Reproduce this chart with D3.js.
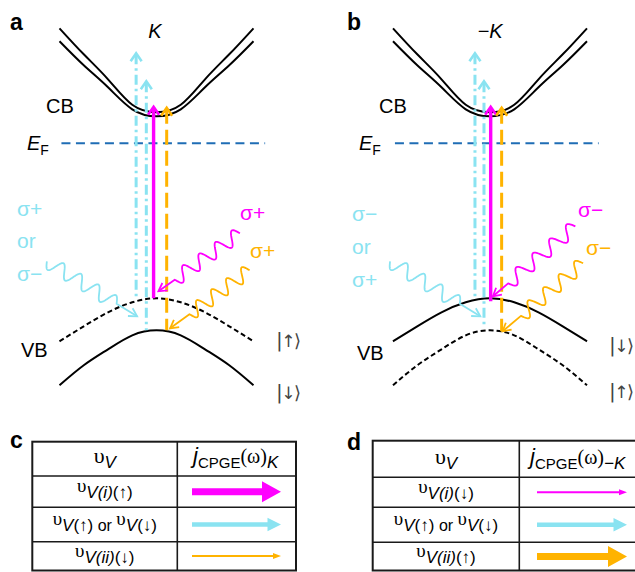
<!DOCTYPE html>
<html>
<head>
<meta charset="utf-8">
<script src="https://cdn.jsdelivr.net/npm/d3@7"></script>
<style>
  html, body { margin: 0; padding: 0; background: #fff; }
  svg { display: block; font-family: "Liberation Sans", Arial, "DejaVu Sans", sans-serif; }
</style>
</head>
<body>
<svg id="fig" width="635" height="572"></svg>
<script>
// ---------- band structure around the K / -K valleys ----------
// k is measured from the valley centre, E from the Fermi level (arbitrary units)
const bandK    = [-1, -0.75, -0.5, -0.25, 0, 0.25, 0.5, 0.75, 1];
const cbOuterE = [1.15, 0.89, 0.64, 0.385, 0.31, 0.385, 0.64, 0.89, 1.15];
const cbInnerE = [1.02, 0.78, 0.56, 0.34, 0.27, 0.34, 0.56, 0.78, 1.02];
const vbUpperE = [-1.98, -1.83, -1.69, -1.59, -1.55, -1.59, -1.69, -1.83, -1.98];
const vbLowerE = [-2.42, -2.22, -2.06, -1.92, -1.87, -1.92, -2.06, -2.22, -2.42];
const fermiE = 0;
const fermiSpan = [-0.98, 1.12];

// ---------- vertical optical transitions ----------
// order: cyan (outer), cyan (inner), magenta (i), orange (ii)
const transitionNames = ["cyan", "cyan", "magenta", "orange"];
const transKA    = [-0.21, -0.105, -0.03, 0.105];
const transKB    = [-0.155, -0.062, 0.007, 0.12];
const transFromA = [-1.56, -1.87, -1.55, -1.87];
const transFromB = [-1.57, -1.85, -1.58, -1.88];
const transTo    = [0.90, 0.62, 0.365, 0.355];

// ---------- incoming photons: start and tip as (k, E) ----------
const photonNames  = ["cyan", "magenta", "orange"];
const photonStartA = [[-1.13, -1.18], [0.86, -0.90], [0.96, -1.27]];
const photonTipA   = [[-0.20, -1.73], [0.02, -1.48], [0.14, -1.85]];
const photonStartB = [[-1.03, -1.18], [0.88, -0.83], [0.96, -1.20]];
const photonTipB   = [[-0.10, -1.73], [0.03, -1.53], [0.13, -1.88]];

// ---------- text ----------
const polA = [["σ+", "or", "σ−"], "σ+", "σ+"];
const polB = [["σ−", "or", "σ+"], "σ−", "σ−"];
const ketsA = ["↑", "↓"];
const ketsB = ["↓", "↑"];
const valleyA = "K", valleyB = "−K";

// ---------- CPGE current tables ----------
const rowsC = [
  [["υ", "u"], ["V(i)", "si"], ["(↑)", "s"]],
  [["υ", "u"], ["V", "si"], ["(↑)", "s"], [" or ", "or"], ["υ", "u"], ["V", "si"], ["(↓)", "s"]],
  [["υ", "u"], ["V(ii)", "si"], ["(↓)", "s"]]
];
const rowsD = [
  [["υ", "u"], ["V(i)", "si"], ["(↓)", "s"]],
  [["υ", "u"], ["V", "si"], ["(↑)", "s"], [" or ", "or"], ["υ", "u"], ["V", "si"], ["(↓)", "s"]],
  [["υ", "u"], ["V(ii)", "si"], ["(↑)", "s"]]
];
const headC = [[["υ", "hu"], ["V", "hsi"]], [["j", "hj"], ["CPGE", "hs"], ["(ω)", "hw"], ["K", "hsi"]]];
const headD = [[["υ", "hu"], ["V", "hsi"]], [["j", "hj"], ["CPGE", "hs"], ["(ω)", "hw"], ["−K", "hsi"]]];
const rowColors = ["magenta", "cyan", "orange"];
const currentK      = [3, 2, 1];   // relative magnitude of j_CPGE at K
const currentMinusK = [1, 2, 3];   // relative magnitude of j_CPGE at -K

// ---------- styling ----------
const col = { cyan: "#8ae3f1", magenta: "#ff00ff", orange: "#ffb300", fermi: "#1f6db5", ink: "#000", ket: "#444" };
const lineStyle = {
  cyan:    { dash: "10,4,2.5,4", width: 3 },
  magenta: { dash: null,         width: 3.4 },
  orange:  { dash: "15,6",       width: 3 }
};
const SANS = "'Liberation Sans', Arial, 'DejaVu Sans', sans-serif";
const SERIF = "'Liberation Serif', 'Times New Roman', serif";
const DEJAVU = "'DejaVu Sans', sans-serif";

const svg = d3.select("#fig");
const yE = d3.scaleLinear().domain([-2.6, 1.2]).range([403.3, 23.3]);

const panels = [
  { letter: "a", cx: 156.5, valley: valleyA, upperDashed: true,
    transK: transKA, transFrom: transFromA, pStart: photonStartA, pTip: photonTipA, pol: polA, kets: ketsA,
    lay: { letter: [10, 30], valley: [155, 38], cb: [46, 113], ef: [27, 150], vb: [21, 357],
           ketX: 276, ketY: [347, 399], cyanX: 17, cyanY: [216, 248, 281], mag: [240, 220], ora: [250, 258] } },
  { letter: "b", cx: 490, valley: valleyB, upperDashed: false,
    transK: transKB, transFrom: transFromB, pStart: photonStartB, pTip: photonTipB, pol: polB, kets: ketsB,
    lay: { letter: [347, 30], valley: [490, 38], cb: [379, 113], ef: [359, 150], vb: [357, 360],
           ketX: 609, ketY: [352, 398], cyanX: 352, cyanY: [221, 254, 287], mag: [578, 217], ora: [586, 255] } }
];

function chevron(g, x, y, color, half, depth, w) {
  g.append("path")
    .attr("d", `M${x - half},${y + depth}L${x},${y}L${x + half},${y + depth}`)
    .attr("fill", "none").attr("stroke", color).attr("stroke-width", w)
    .attr("stroke-linejoin", "miter").attr("stroke-linecap", "butt");
}

function photon(g, p0, p1, color, periods, amp, lead) {
  const dx = p1[0] - p0[0], dy = p1[1] - p0[1], L = Math.hypot(dx, dy);
  const ux = dx / L, uy = dy / L, nx = -uy, ny = ux;
  const Lw = L - lead, N = 160, pts = [];
  for (let i = 0; i <= N; i++) {
    const t = (i / N) * Lw;
    const o = amp * Math.sin(2 * Math.PI * periods * t / Lw);
    pts.push([p0[0] + ux * t + nx * o, p0[1] + uy * t + ny * o]);
  }
  pts.push(p1);
  g.append("path").attr("d", d3.line()(pts)).attr("fill", "none")
    .attr("stroke", color).attr("stroke-width", 1.8).attr("stroke-linejoin", "round");
  const hl = 8, hw = 4.5;
  const a = [p1[0] - ux * hl + nx * hw, p1[1] - uy * hl + ny * hw];
  const b = [p1[0] - ux * hl - nx * hw, p1[1] - uy * hl - ny * hw];
  g.append("path").attr("d", `M${a}L${p1}L${b}`).attr("fill", "none")
    .attr("stroke", color).attr("stroke-width", 1.8);
}

panels.forEach(p => {
  const x = d3.scaleLinear().domain([-1, 1]).range([p.cx - 97, p.cx + 97]);
  const g = svg.append("g");
  const band = d3.line().x(d => x(d[0])).y(d => yE(d[1])).curve(d3.curveNatural);
  const pairs = arr => bandK.map((k, i) => [k, arr[i]]);

  // conduction band (spin-split pair)
  [cbOuterE, cbInnerE].forEach(e => {
    g.append("path").attr("d", band(pairs(e))).attr("fill", "none")
      .attr("stroke", col.ink).attr("stroke-width", 2);
  });
  // valence bands
  [[vbUpperE, p.upperDashed], [vbLowerE, !p.upperDashed]].forEach(([e, dashed]) => {
    g.append("path").attr("d", band(pairs(e))).attr("fill", "none")
      .attr("stroke", col.ink).attr("stroke-width", 2)
      .attr("stroke-dasharray", dashed ? "5,3" : null);
  });
  // Fermi level
  g.append("line").attr("x1", x(fermiSpan[0])).attr("x2", x(fermiSpan[1]))
    .attr("y1", yE(fermiE)).attr("y2", yE(fermiE))
    .attr("stroke", col.fermi).attr("stroke-width", 2).attr("stroke-dasharray", "9,5.5");

  // vertical transitions (drawn from the arrow tip downward)
  transitionNames.forEach((name, i) => {
    const xx = x(p.transK[i]), yTop = yE(transTo[i]), yBot = yE(p.transFrom[i]);
    const st = lineStyle[name];
    g.append("line").attr("x1", xx).attr("x2", xx).attr("y1", yTop + 1).attr("y2", yBot)
      .attr("stroke", col[name]).attr("stroke-width", st.width)
      .attr("stroke-dasharray", st.dash);
    chevron(g, xx, yTop, col[name], 5.5, 8, 2.6);
  });

  // incoming photons
  photonNames.forEach((name, i) => {
    const s = p.pStart[i], t = p.pTip[i];
    photon(g, [x(s[0]), yE(s[1])], [x(t[0]), yE(t[1])], col[name], 4, 7, name === "magenta" ? 20 : 24);
  });

  // labels
  const L = p.lay;
  g.append("text").attr("x", L.letter[0]).attr("y", L.letter[1]).text(p.letter)
    .attr("font-size", 23).attr("font-weight", "bold").attr("fill", col.ink);
  g.append("text").attr("x", L.valley[0]).attr("y", L.valley[1]).text(p.valley)
    .attr("text-anchor", "middle").attr("font-size", 20).attr("font-style", "italic");
  g.append("text").attr("x", L.cb[0]).attr("y", L.cb[1]).text("CB").attr("font-size", 20);
  g.append("text").attr("x", L.vb[0]).attr("y", L.vb[1]).text("VB").attr("font-size", 20);
  const ef = g.append("text").attr("x", L.ef[0]).attr("y", L.ef[1]).attr("font-size", 20);
  ef.append("tspan").text("E").attr("font-style", "italic");
  ef.append("tspan").text("F").attr("font-size", 14).attr("dy", 5);

  // spin kets |s⟩
  p.kets.forEach((k, i) => {
    const t = g.append("text").attr("x", L.ketX).attr("y", L.ketY[i])
      .attr("fill", col.ket).attr("font-family", DEJAVU);
    t.append("tspan").text("|").attr("font-size", 20);
    t.append("tspan").text(k).attr("dx", -1.5).attr("font-size", 17);
    t.append("tspan").text("⟩").attr("dx", -1.5).attr("font-size", 18);
  });
  p.pol[0].forEach((t, i) => {
    g.append("text").attr("x", L.cyanX).attr("y", L.cyanY[i]).text(t)
      .attr("font-size", 21).attr("fill", col.cyan);
  });
  g.append("text").attr("x", L.mag[0]).attr("y", L.mag[1]).text(p.pol[1])
    .attr("font-size", 21).attr("fill", col.magenta);
  g.append("text").attr("x", L.ora[0]).attr("y", L.ora[1]).text(p.pol[2])
    .attr("font-size", 21).attr("fill", col.orange);
});

// ---------- tables c and d ----------
const fmt = {
  u:   { size: 19, family: SERIF, style: "normal", shift: 0 },
  si:  { size: 17, family: SANS,  style: "italic", shift: 6 },
  s:   { size: 17, family: SANS,  style: "normal", shift: 6 },
  or:  { size: 16, family: SANS,  style: "normal", shift: 6 },
  hu:  { size: 22, family: SERIF, style: "normal", shift: 0 },
  hsi: { size: 17, family: SANS,  style: "italic", shift: 5 },
  hj:  { size: 22, family: SANS,  style: "italic", shift: 0 },
  hs:  { size: 15, family: SANS,  style: "normal", shift: 5 },
  hw:  { size: 20, family: SERIF, style: "normal", shift: 0 }
};

function richText(g, x, y, segs) {
  const t = g.append("text").attr("x", x).attr("y", y).attr("text-anchor", "middle")
    .style("white-space", "pre");
  let cur = 0;
  segs.forEach(([txt, kind]) => {
    const f = fmt[kind];
    t.append("tspan").text(txt).attr("dy", f.shift - cur)
      .attr("font-size", f.size).attr("font-family", f.family).attr("font-style", f.style);
    cur = f.shift;
  });
}

const widthScale = d3.scaleLinear().domain([1, 3]).range([2, 7]);
const headHalf   = d3.scaleLinear().domain([1, 3]).range([3, 10.5]);
const headLen    = d3.scaleLinear().domain([1, 3]).range([8, 19]);

const tables = [
  { letter: "c", lx: 10, ly: 448, xs: [32.3, 177.3, 296], ys: [441.7, 476, 507.3, 541.7, 570.5],
    head: headC, rows: rowsC, cur: currentK, a0: 192, a1: 281 },
  { letter: "d", lx: 347, ly: 450, xs: [372.7, 519.3, 638], ys: [440.7, 477.3, 507.3, 542.3, 570.5],
    head: headD, rows: rowsD, cur: currentMinusK, a0: 537, a1: 627 }
];

tables.forEach(tb => {
  const g = svg.append("g");
  g.append("text").attr("x", tb.lx).attr("y", tb.ly).text(tb.letter)
    .attr("font-size", 23).attr("font-weight", "bold");
  const [x0, x1, x2] = tb.xs, ys = tb.ys;
  g.append("rect").attr("x", x0).attr("y", ys[0]).attr("width", x2 - x0).attr("height", ys[4] - ys[0])
    .attr("fill", "none").attr("stroke", "#1a1a1a").attr("stroke-width", 2);
  g.append("line").attr("x1", x1).attr("x2", x1).attr("y1", ys[0]).attr("y2", ys[4])
    .attr("stroke", "#1a1a1a").attr("stroke-width", 1.6);
  ys.slice(1, 4).forEach(yy => {
    g.append("line").attr("x1", x0).attr("x2", x2).attr("y1", yy).attr("y2", yy)
      .attr("stroke", "#1a1a1a").attr("stroke-width", 1.6);
  });
  const c1 = (x0 + x1) / 2, c2 = (x1 + x2) / 2;
  const hc = (ys[0] + ys[1]) / 2;
  richText(g, c1, hc + 4.5, tb.head[0]);
  richText(g, c2 - 1, hc + 4.5, tb.head[1]);
  tb.rows.forEach((segs, i) => {
    const cy = (ys[i + 1] + ys[i + 2]) / 2;
    richText(g, c1, cy + 0.5, segs);
    const m = tb.cur[i], w = widthScale(m), hw = headHalf(m), hl = headLen(m);
    const xh = tb.a1 - hl;
    g.append("path")
      .attr("d", `M${tb.a0},${cy - w / 2}L${xh},${cy - w / 2}L${xh},${cy - hw}L${tb.a1},${cy}` +
                 `L${xh},${cy + hw}L${xh},${cy + w / 2}L${tb.a0},${cy + w / 2}Z`)
      .attr("fill", col[rowColors[i]]);
  });
});
</script>
</body>
</html>
